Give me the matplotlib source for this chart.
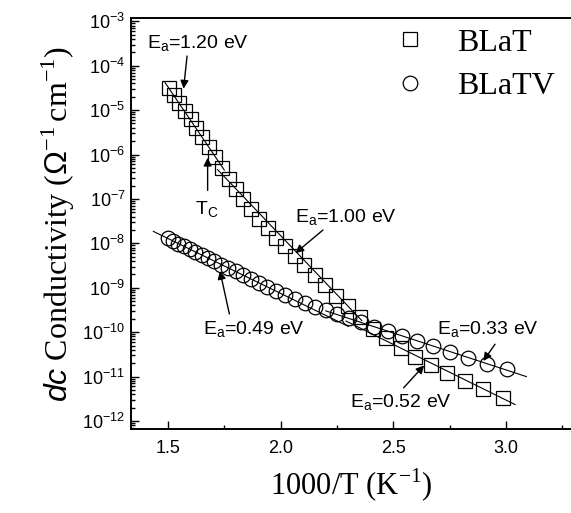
import numpy as np
import matplotlib
matplotlib.use("Agg")
import matplotlib.pyplot as plt
from matplotlib.ticker import LogLocator, NullFormatter, FixedLocator

plt.rcParams['mathtext.fontset'] = 'custom'
plt.rcParams['mathtext.rm'] = 'Liberation Sans'
plt.rcParams['mathtext.it'] = 'Liberation Sans:italic'

# data: 1000/T (K^-1) and log10 of dc conductivity
x_blat = [1.504, 1.527, 1.550, 1.575, 1.600, 1.626, 1.653, 1.681, 1.709, 1.739,
          1.770, 1.802, 1.835, 1.869, 1.905, 1.942, 1.980, 2.020, 2.062, 2.105,
          2.151, 2.198, 2.247, 2.299, 2.353, 2.410, 2.469, 2.532, 2.597, 2.667,
          2.740, 2.817, 2.899, 2.985]
logs_blat = [-4.50, -4.66, -4.83, -5.01, -5.20, -5.40, -5.61, -5.83, -6.06, -6.30,
             -6.54, -6.78, -7.01, -7.23, -7.45, -7.66, -7.87, -8.07, -8.28, -8.49,
             -8.71, -8.93, -9.18, -9.42, -9.65, -9.92, -10.14, -10.35, -10.56, -10.74,
             -10.91, -11.10, -11.29, -11.49]

x_blatv = [1.499, 1.522, 1.546, 1.571, 1.596, 1.622, 1.649, 1.677, 1.706, 1.736,
           1.767, 1.800, 1.833, 1.868, 1.904, 1.941, 1.980, 2.020, 2.063, 2.107,
           2.152, 2.200, 2.250, 2.303, 2.358, 2.416, 2.476, 2.540, 2.607, 2.677,
           2.752, 2.831, 2.914, 3.003]
logs_blatv = [-7.89, -7.95, -8.01, -8.07, -8.13, -8.20, -8.26, -8.33, -8.40, -8.48,
              -8.55, -8.63, -8.72, -8.80, -8.89, -8.98, -9.08, -9.16, -9.26, -9.35,
              -9.43, -9.51, -9.59, -9.68, -9.78, -9.88, -9.98, -10.09, -10.20, -10.32,
              -10.45, -10.58, -10.71, -10.84]

# straight Arrhenius fits: start/end of 1000/T and log10(sigma)
fit_x0 = [1.487, 1.72, 2.29, 1.435, 2.20]
fit_x1 = [1.75, 2.36, 3.04, 2.30, 3.09]
fit_y0 = [-4.38, -6.34, -9.75, -7.73, -9.52]
fit_y1 = [-6.35, -9.74, -11.63, -9.87, -11.0]

labels = ["BLaT", "BLaTV"]

# annotations: text, text pos, arrow tail, arrow tip (x, log10 y)
ann_text = [r"E$_\mathregular{a}$=1.20 eV", r"T$_\mathregular{C}$", r"E$_\mathregular{a}$=1.00 eV",
            r"E$_\mathregular{a}$=0.49 eV", r"E$_\mathregular{a}$=0.33 eV", r"E$_\mathregular{a}$=0.52 eV"]
ann_pos = [(1.407, -3.60), (1.620, -7.34), (2.063, -7.51), (1.654, -10.03), (2.692, -10.05), (2.307, -11.68)]
arr_from = [(1.586, -3.72), (1.676, -6.87), (2.197, -7.66), (1.775, -9.65), (2.958, -10.22), (2.537, -11.30)]
arr_to = [(1.568, -4.58), (1.676, -6.01), (2.056, -8.26), (1.728, -8.56), (2.892, -10.70), (2.645, -10.70)]

fig = plt.figure(figsize=(5.71, 5.13), dpi=100)
ax = fig.add_axes([131 / 571, 84 / 513, 440 / 571, 411 / 513])

y_blat = [10 ** v for v in logs_blat]
y_blatv = [10 ** v for v in logs_blatv]

ax.plot(x_blat, y_blat, ls='none', marker='s', ms=9.5, mfc='none', mec='black', mew=0.9, label=labels[0])
ax.plot(x_blatv, y_blatv, ls='none', marker='o', ms=10.5, mfc='none', mec='black', mew=0.9, label=labels[1])

for a, b, c, d in zip(fit_x0, fit_x1, fit_y0, fit_y1):
    ax.plot([a, b], [10 ** c, 10 ** d], color='black', lw=0.8)

for t, p, f, tip in zip(ann_text, ann_pos, arr_from, arr_to):
    ax.annotate("", xy=(tip[0], 10 ** tip[1]), xytext=(f[0], 10 ** f[1]),
                arrowprops=dict(arrowstyle='-|>', color='black', lw=1.0, mutation_scale=12))
    ax.text(p[0], 10 ** p[1], t, fontsize=14, family='Liberation Sans', va='baseline', ha='left')

ax.set_yscale('log')
ax.set_xlim(1.336, 3.288)
ax.set_ylim(10 ** -12.18, 10 ** -2.926)

ax.xaxis.set_major_locator(FixedLocator([1.5, 2.0, 2.5, 3.0]))
ax.xaxis.set_minor_locator(FixedLocator([1.75, 2.25, 2.75, 3.25]))
ax.set_xticklabels(["1.5", "2.0", "2.5", "3.0"])
ax.yaxis.set_minor_locator(LogLocator(base=10, subs=np.arange(2, 10), numticks=20))
ax.yaxis.set_minor_formatter(NullFormatter())
ax.set_yticks([10.0 ** k for k in range(-12, -2)])
ax.set_yticklabels([r"$\mathregular{10^{%d}}$" % k for k in range(-12, -2)])

ax.tick_params(which='both', direction='in', top=False, right=False, labelsize=13, width=1.0)
ax.tick_params(which='major', length=6)
ax.tick_params(which='minor', length=3)
for lab in ax.get_xticklabels() + ax.get_yticklabels():
    lab.set_family('Liberation Sans')
ax.tick_params(axis='x', pad=8)
ax.tick_params(axis='y', pad=4)

for s in ['left', 'bottom', 'top']:
    ax.spines[s].set_linewidth(1.4)
ax.spines['right'].set_visible(False)

ax.set_xlabel(r"1000/T (K$^{\mathregular{-1}}$)", family='Liberation Serif', fontsize=22, labelpad=7)
ax.set_ylabel(r"$\it{dc}$ Conductivity ($\Omega^{\mathregular{-1}}\,$cm$^{\mathregular{-1}}$)",
              family='Liberation Serif', fontsize=23, labelpad=4)

leg = ax.legend(loc='upper left', bbox_to_anchor=(0.598, 0.975), frameon=False,
                prop={'family': 'Liberation Serif', 'size': 23}, handlelength=1.0,
                handletextpad=0.97, borderpad=0, borderaxespad=0, labelspacing=0.45)

fig.savefig("out.png", dpi=100)
